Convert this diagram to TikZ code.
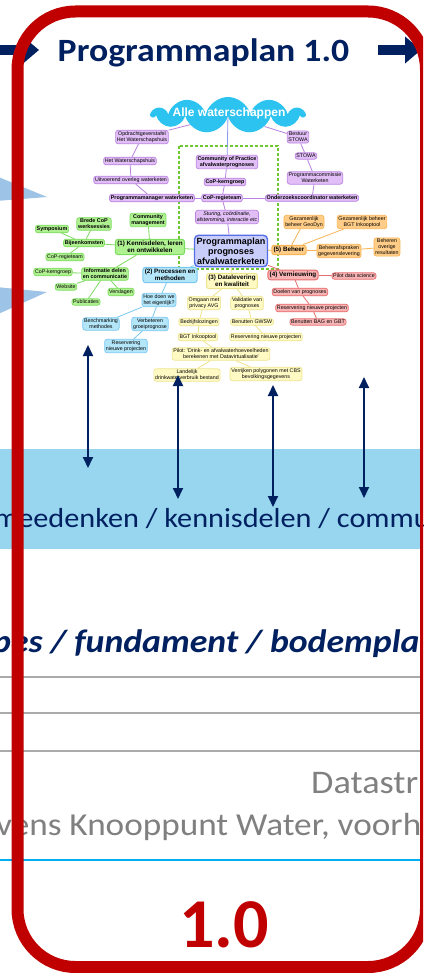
\documentclass[tikz,border=0pt]{standalone}
\usepackage{fontspec}
\setmainfont{Carlito}
\newfontfamily\slidefont{Carlito}[FakeStretch=1.1]
\newfontfamily\mapfont{Liberation Sans}
\usetikzlibrary{arrows.meta,shapes.symbols}

\definecolor{navy}{RGB}{0,32,96}
\definecolor{slideRed}{RGB}{192,0,0}
\definecolor{bandBlue}{RGB}{152,213,239}
\definecolor{wedgeBlue}{RGB}{157,195,230}
\definecolor{ruleGray}{RGB}{170,170,170}
\definecolor{textGray}{RGB}{128,128,128}
\definecolor{lineBlue}{RGB}{0,176,240}
\definecolor{cloudBlue}{RGB}{45,195,240}
\definecolor{puFill}{RGB}{225,190,245}\definecolor{puLine}{RGB}{185,130,225}
\definecolor{grFill}{RGB}{175,240,145}\definecolor{grLine}{RGB}{125,220,95}
\definecolor{blFill}{RGB}{180,230,250}\definecolor{blLine}{RGB}{120,200,240}
\definecolor{yeFill}{RGB}{255,250,195}\definecolor{yeLine}{RGB}{238,228,140}
\definecolor{rdFill}{RGB}{248,180,180}\definecolor{rdLine}{RGB}{230,110,110}
\definecolor{orFill}{RGB}{255,205,135}\definecolor{orLine}{RGB}{248,180,85}
\definecolor{hubFill}{RGB}{200,205,250}\definecolor{hubLine}{RGB}{85,110,230}
\definecolor{dashGreen}{RGB}{110,200,50}

\begin{document}
\begin{tikzpicture}[x=1pt,y=-1pt,
    leaf/.style={draw,rounded corners=2.5pt,line width=0.7pt,inner sep=1.3pt,align=center,
      font=\mapfont\fontsize{5.3}{5.9}\selectfont},
    hub/.style={leaf,font=\mapfont\bfseries\fontsize{5.4}{6.1}\selectfont},
    branch/.style={leaf,line width=1pt,inner sep=1.8pt,font=\mapfont\bfseries\fontsize{6.3}{7.1}\selectfont},
    tPurple/.style={fill=puFill,draw=puLine},
    tGreen/.style={fill=grFill,draw=grLine},
    tBlue/.style={fill=blFill,draw=blLine},
    tYellow/.style={fill=yeFill,draw=yeLine},
    tRed/.style={fill=rdFill,draw=rdLine},
    tOrange/.style={fill=orFill,draw=orLine},
    fat/.style={navy,line width=10pt,-{Triangle[length=16pt,width=26pt]}},
    updown/.style={navy,line width=1.8pt,{Triangle[length=11pt,width=10pt]}-{Triangle[length=11pt,width=10pt]}},
    rule/.style={draw=ruleGray,line width=1.2pt},
    slide/.style={anchor=base west,inner sep=0pt}]

  \useasboundingbox (0,0) rectangle (423,973);
  \clip (0,0) rectangle (423,973);
  \fill[white] (0,0) rectangle (423,973);

  % wedges coming in from the left panel
  \fill[wedgeBlue] (-4,176) -- (47,197) -- (-4,201) -- cycle;
  \fill[wedgeBlue] (-4,287) -- (47,292) -- (-4,315) -- cycle;

  % title with arrows
  \node[slide,anchor=base,text=navy,font=\slidefont\bfseries\fontsize{32.5}{38}\selectfont] (title) at (203.5,62) {Programmaplan 1.0};
  \coordinate (inA) at (-4,50);
  \coordinate (inB) at (39,50);
  \coordinate (outA) at (378,50);
  \coordinate (outB) at (421,50);
  \draw[fat] (inA) -- (inB);
  \draw[fat] (outA) -- (outB);

  % mind map
  \draw[dashGreen,line width=1.6pt,dash pattern=on 3pt off 2pt] (179,146) rectangle (278,269);
  \node[cloud,cloud puffs=11,aspect=4.4,fill=cloudBlue,inner sep=0pt,minimum width=152pt,minimum height=36pt] (all) at (228,115) {};
  \node[text=white,font=\mapfont\bfseries\fontsize{12}{14}\selectfont] (allText) at (229,113) {Alle waterschappen};

  \node[leaf,tPurple] (opdr) at (142,137) {Opdrachtgeverstafel\\Het Waterschapshuis};
  \node[leaf,tPurple] (hws) at (130,161) {Het Waterschapshuis};
  \node[leaf,tPurple] (uitv) at (131,180) {Uitvoerend overleg waterketen};
  \node[hub,tPurple] (pmgr) at (152,198) {Programmamanager waterketen};
  \node[hub,tPurple] (cop) at (227,162) {Community of Practice\\afvalwaterprognoses};
  \node[hub,tPurple] (kern) at (225,182) {CoP-kerngroep};
  \node[hub,tPurple] (regie) at (222,198) {CoP-regieteam};
  \node[leaf,tPurple,font=\mapfont\itshape\fontsize{5.3}{5.9}\selectfont] (stur) at (227,217) {Sturing, coördinatie,\\afstemming, interactie etc};
  \node[leaf,tPurple] (best) at (298,137) {Bestuur\\STOWA};
  \node[leaf,tPurple] (stowa) at (306,156) {STOWA};
  \node[leaf,tPurple] (pcom) at (315,178) {Programmacommissie\\Waterketen};
  \node[hub,tPurple] (onderz) at (312,198) {Onderzoekscoordinator waterketen};

  \node[leaf,fill=hubFill,draw=hubLine,line width=1.4pt,rounded corners=4pt,inner sep=2.2pt,
    font=\mapfont\bfseries\fontsize{9}{10.2}\selectfont] (plan) at (231,251) {Programmaplan\\prognoses\\afvalwaterketen};

  \node[hub,tGreen] (cmgmt) at (148,220) {Community\\management};
  \node[branch,tGreen] (k1) at (150,247) {(1) Kennisdelen, leren\\en ontwikkelen};
  \node[hub,tGreen] (brede) at (94,224) {Brede CoP\\werksessies};
  \node[hub,tGreen] (symp) at (52,229) {Symposium};
  \node[hub,tGreen] (bijeen) at (84,243) {Bijeenkomsten};
  \node[leaf,tGreen] (gregie) at (65,257) {CoP-regieteam};
  \node[leaf,tGreen] (gkern) at (53,272) {CoP-kerngroep};
  \node[hub,tGreen] (info) at (105,274) {Informatie delen\\en communicatie};
  \node[leaf,tGreen] (web) at (66,287) {Website};
  \node[leaf,tGreen] (versl) at (121,292) {Verslagen};
  \node[leaf,tGreen] (publ) at (86,302) {Publicaties};

  \node[branch,tBlue] (p2) at (170,275) {(2) Processen en\\methoden};
  \node[leaf,tBlue] (hoe) at (159,300) {Hoe doen we\\het eigenlijk?};
  \node[leaf,tBlue] (bench) at (101,324) {Benchmarking\\methodes};
  \node[leaf,tBlue] (verb) at (150,324) {Verbeteren\\groeiprognose};
  \node[leaf,tBlue] (bres) at (126,346) {Reservering\\nieuwe projecten};

  \node[branch,tYellow] (d3) at (232,281) {(3) Datalevering\\en kwaliteit};
  \node[leaf,tYellow] (avg) at (204,303) {Omgaan met\\privacy AVG};
  \node[leaf,tYellow] (valid) at (247,303) {Validatie van\\prognoses};
  \node[leaf,tYellow] (bedr) at (199,322) {Bedrijfslozingen};
  \node[leaf,tYellow] (gwsw) at (252,322) {Benutten GWSW};
  \node[leaf,tYellow] (bgt) at (198,337) {BGT Inkooptool};
  \node[leaf,tYellow] (yres) at (266,337) {Reservering nieuwe projecten};
  \node[leaf,tYellow] (pilot) at (221,354) {Pilot: 'Drink- en afvalwaterhoeveelheden\\berekenen met Datavirtualisatie'};
  \node[leaf,tYellow] (land) at (187,375) {Landelijk\\drinkwaterverbruik bestand};
  \node[leaf,tYellow] (verr) at (266,374) {Verrijken polygonen met CBS\\bevolkingsgegevens};

  \node[branch,tRed] (v4) at (293,275) {(4) Vernieuwing};
  \node[leaf,tRed] (pds) at (354,276) {Pilot data science};
  \node[leaf,tRed] (doel) at (300,292) {Doelen van prognoses};
  \node[leaf,tRed] (rres) at (312,308) {Reservering nieuwe projecten};
  \node[leaf,tRed] (bag) at (318,322) {Benutten BAG en GBT};

  \node[branch,tOrange] (b5) at (289,250) {(5) Beheer};
  \node[leaf,tOrange] (geo) at (304,222) {Gezamenlijk\\beheer GeoDyn};
  \node[leaf,tOrange] (bgtb) at (362,222) {Gezamenlijk beheer\\BGT Inkooptool};
  \node[leaf,tOrange] (afspr) at (339,251) {Beheerafspraken\\gegevenslevering};
  \node[leaf,tOrange] (overig) at (387,247) {Beheren\\overige\\resultaten};

  \foreach \from/\to in {all/opdr, opdr/hws, hws/uitv, uitv/pmgr, pmgr/regie, all/best, best/stowa,
      stowa/pcom, pcom/onderz, regie/onderz, cop/kern, kern/regie, regie/stur, stur/plan}
    \draw[puLine,line width=0.8pt] (\from) -- (\to);
  \draw[hubLine!70,line width=0.8pt] (all) -- (cop);
  \foreach \from/\to in {plan/k1, k1/cmgmt, k1/bijeen, k1/info, bijeen/symp, bijeen/brede,
      bijeen/gregie, info/gkern, info/web, info/publ, info/versl}
    \draw[grLine,line width=0.8pt] (\from) -- (\to);
  \foreach \from/\to in {plan/p2, p2/hoe, hoe/bench, hoe/verb, verb/bres}
    \draw[blLine,line width=0.8pt] (\from) -- (\to);
  \foreach \from/\to in {plan/d3, d3/avg, d3/valid, avg/bedr, bedr/bgt, bgt/pilot, pilot/land,
      valid/gwsw, gwsw/yres, pilot/verr}
    \draw[yeLine,line width=0.8pt] (\from) -- (\to);
  \foreach \from/\to in {plan/v4, v4/pds, v4/doel, doel/rres, rres/bag}
    \draw[rdLine,line width=0.8pt] (\from) -- (\to);
  \foreach \from/\to in {plan/b5, b5/geo, b5/bgtb, b5/afspr, afspr/overig}
    \draw[orLine,line width=0.8pt] (\from) -- (\to);

  % band
  \fill[bandBlue] (0,449) rectangle (423,549);
  \node[slide,text=navy,font=\slidefont\fontsize{27.5}{33}\selectfont] (talk) at (-6,527) {meedenken / kennisdelen / commu};

  \coordinate (upA) at (88,345);   \coordinate (downA) at (88,468);
  \coordinate (upB) at (178,375);  \coordinate (downB) at (178,499);
  \coordinate (upC) at (273,385);  \coordinate (downC) at (273,507);
  \coordinate (upD) at (364,377);  \coordinate (downD) at (364,498);
  \foreach \p in {A,B,C,D}
    \draw[updown] (up\p) -- (down\p);

  % foundation
  \node[slide,text=navy,font=\slidefont\bfseries\itshape\fontsize{32.5}{38}\selectfont] (base) at (-8,652) {pes / fundament / bodempla};
  \draw[rule] (0,677) -- (423,677);
  \draw[rule] (0,713) -- (423,713);
  \draw[rule] (0,751) -- (423,751);
  \node[slide,text=textGray,font=\slidefont\fontsize{33}{39}\selectfont] (flow) at (311,793) {Datastr};
  \node[slide,text=textGray,font=\slidefont\fontsize{32}{38}\selectfont] (knoop) at (-4,835) {vens Knooppunt Water, voorh};
  \draw[lineBlue,line width=2pt] (0,860) -- (423,860);

  \node[slide,anchor=base,text=slideRed,font=\bfseries\fontsize{70}{80}\selectfont] (ver) at (224,947) {1.0};

  % frame
  \draw[slideRed,line width=12pt,rounded corners=58pt] (17.5,11.5) rectangle (426,967);
\end{tikzpicture}
\end{document}
